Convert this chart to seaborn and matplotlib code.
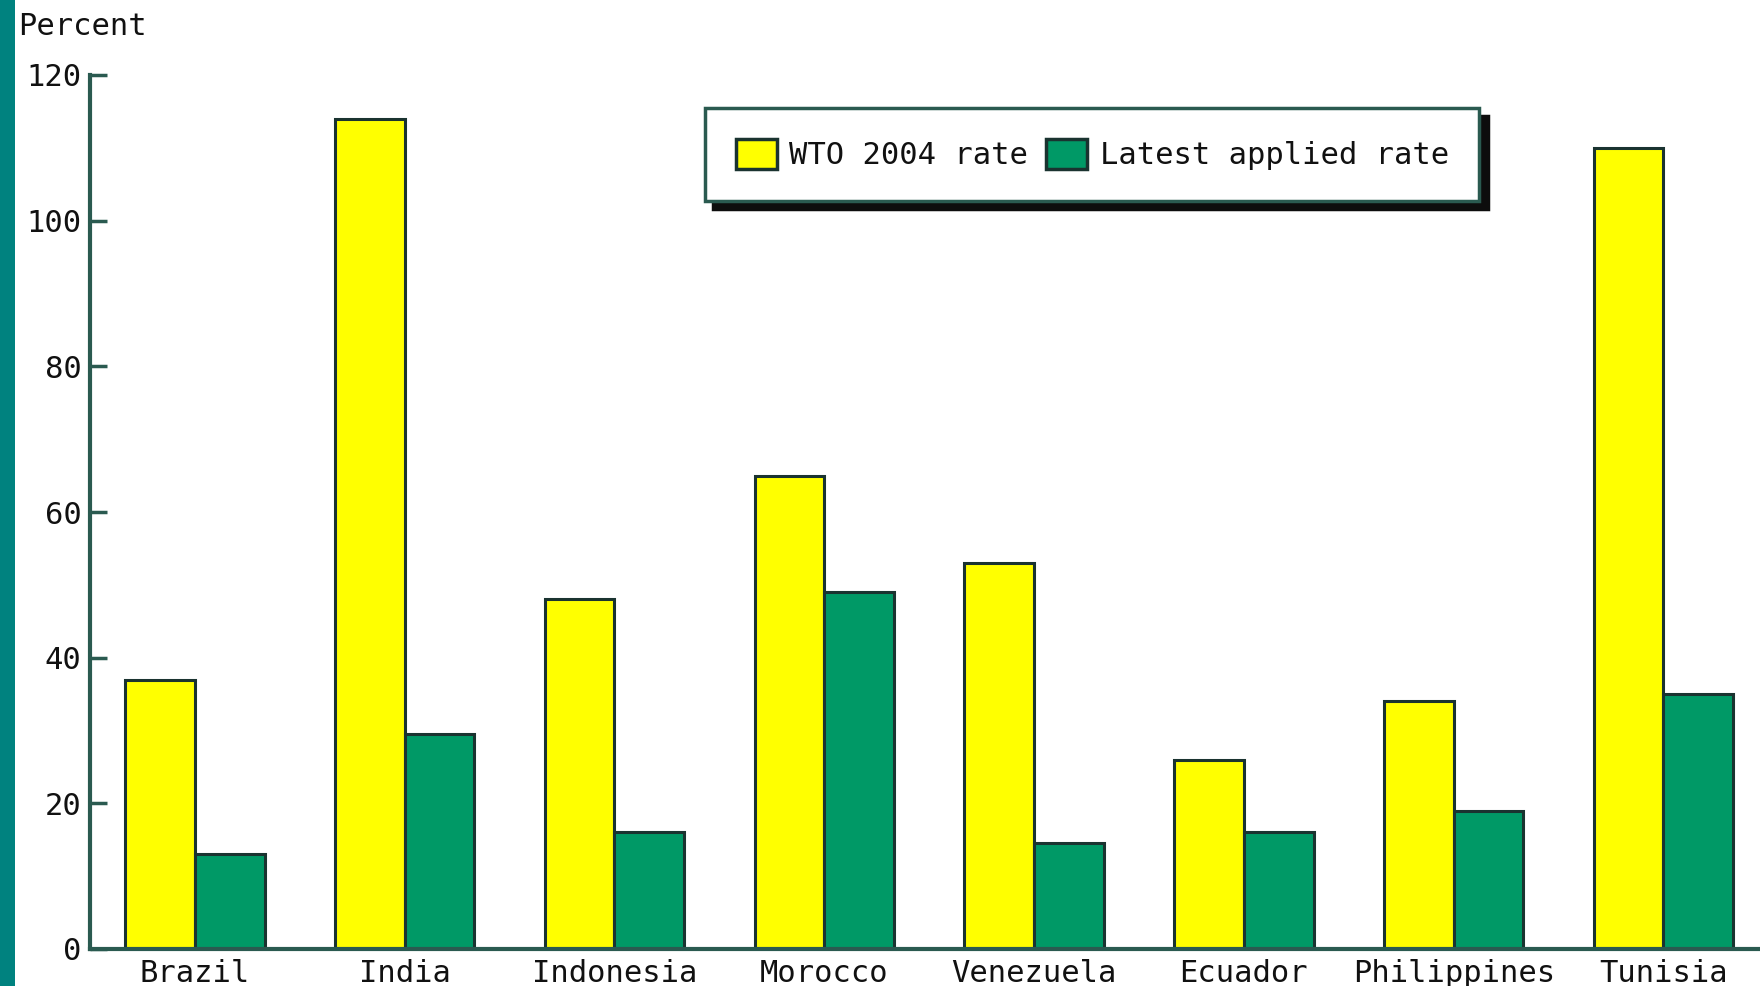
import pandas as pd
import matplotlib
matplotlib.use("Agg")
import matplotlib.pyplot as plt
import seaborn as sns
from matplotlib.patches import Rectangle

# Data
countries = ["Brazil", "India", "Indonesia", "Morocco", "Venezuela",
             "Ecuador", "Philippines", "Tunisia"]
wto_2004 = [37, 114, 48, 65, 53, 26, 34, 110]
latest_applied = [13, 29.5, 16, 49, 14.5, 16, 19, 35]
series_names = ["WTO 2004 rate", "Latest applied rate"]
yticks = [0, 20, 40, 60, 80, 100, 120]

df = pd.DataFrame({
    "country": countries * 2,
    "rate": wto_2004 + latest_applied,
    "series": [series_names[0]] * len(countries) + [series_names[1]] * len(countries),
})

sns.set_style("white")
plt.rcParams["font.family"] = ["DejaVu Sans Mono", "DejaVu Sans"]
plt.rcParams["text.color"] = "#111111"

axis_col = "#2a5a50"
fs = 22
fig = plt.figure(figsize=(17.6, 9.86), dpi=100)
ax = fig.add_axes([90 / 1760, 37 / 986, 1 - 90 / 1760, (949 - 75) / 986])

sns.barplot(data=df, x="country", y="rate", hue="series",
            palette=["#ffff00", "#009966"], width=0.665,
            edgecolor="#1a3330", linewidth=2.2, saturation=1, ax=ax)

ax.set_ylim(0, 120)
ax.set_xlim(-0.5, 7.46)
ax.set_yticks(yticks)
ax.set_yticklabels([str(t) for t in yticks], fontsize=fs)
ax.tick_params(axis="y", left=True, direction="in", length=12, width=2.5,
               color=axis_col, labelcolor="#111111", pad=6)
ax.tick_params(axis="x", length=0, pad=7, labelsize=fs, labelcolor="#111111")
ax.set_xlabel("")
ax.set_ylabel("")
for s in ["top", "right"]:
    ax.spines[s].set_visible(False)
for s in ["left", "bottom"]:
    ax.spines[s].set_color(axis_col)
    ax.spines[s].set_linewidth(3)

leg = ax.legend(loc="upper left", bbox_to_anchor=((705 - 90) / 1670, 1 - (108 - 75) / 874),
                ncol=2, fontsize=fs, frameon=True, fancybox=False,
                shadow={"ox": 6, "oy": -6, "facecolor": "#0d0d0d",
                        "edgecolor": "#0d0d0d", "alpha": 1},
                handlelength=1.35, handleheight=1.15, handletextpad=0.4,
                columnspacing=0.6, borderpad=1.0, borderaxespad=0)
leg.get_frame().set_edgecolor(axis_col)
leg.get_frame().set_linewidth(2.5)
leg.get_frame().set_facecolor("white")
for h in leg.legend_handles:
    h.set_edgecolor("#1a3330")
    h.set_linewidth(2.5)

fig.text(18 / 1760, 1 - 12 / 986, "Percent", ha="left", va="top", fontsize=fs)

# teal strip on the left edge
fig.patches.append(Rectangle((0, 0), 15 / 1760, 1, transform=fig.transFigure,
                             facecolor="#00827f", edgecolor="none"))

fig.savefig("out.png", dpi=100)
